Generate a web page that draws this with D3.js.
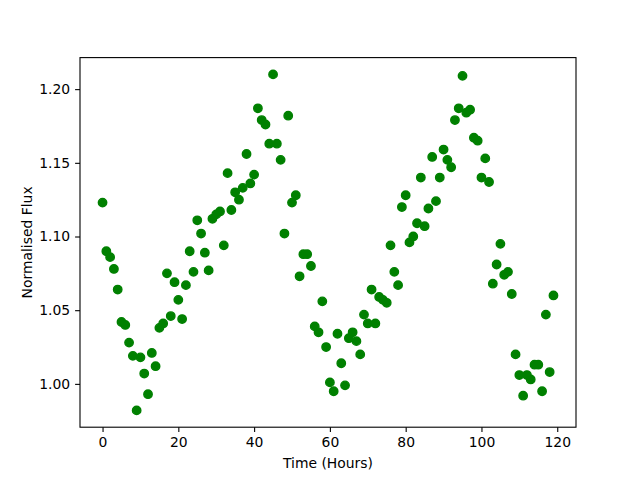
<!DOCTYPE html>
<html>
<head>
<meta charset="utf-8">
<script src="https://d3js.org/d3.v7.min.js"></script>
<style>
  body { margin: 0; background: #fff; }
  svg { display: block; font-family: "DejaVu Sans", sans-serif; }
  .tick text { font-size: 13.9px; fill: #000; }
  .axis-label { font-size: 13.9px; fill: #000; }
</style>
</head>
<body>
<div id="chart"></div>
<script>
// hourly samples, 0..119
const hours = d3.range(0, 120);
const flux = [
  1.123, 1.090, 1.086, 1.078, 1.064, 1.042, 1.040, 1.028, 1.019, 0.982,
  1.018, 1.007, 0.993, 1.021, 1.012, 1.038, 1.041, 1.075, 1.046, 1.069,
  1.057, 1.044, 1.067, 1.090, 1.076, 1.111, 1.102, 1.089, 1.077, 1.112,
  1.115, 1.117, 1.094, 1.143, 1.118, 1.130, 1.125, 1.133, 1.156, 1.136,
  1.142, 1.187, 1.179, 1.176, 1.163, 1.210, 1.163, 1.152, 1.102, 1.182,
  1.123, 1.128, 1.073, 1.088, 1.088, 1.080, 1.039, 1.035, 1.056, 1.025,
  1.001, 0.995, 1.034, 1.014, 0.999, 1.031, 1.035, 1.029, 1.020, 1.047,
  1.041, 1.064, 1.041, 1.059, 1.057, 1.055, 1.094, 1.076, 1.067, 1.120,
  1.128, 1.096, 1.100, 1.109, 1.140, 1.107, 1.119, 1.154, 1.124, 1.140,
  1.159, 1.152, 1.147, 1.179, 1.187, 1.209, 1.184, 1.186, 1.167, 1.165,
  1.140, 1.153, 1.137, 1.068, 1.081, 1.095, 1.074, 1.076, 1.061, 1.020,
  1.006, 0.992, 1.006, 1.003, 1.013, 1.013, 0.995, 1.047, 1.008, 1.060
];
const xTicks = [0, 20, 40, 60, 80, 100, 120];
const yTicks = [1.00, 1.05, 1.10, 1.15, 1.20];

const width = 640, height = 480;
const plotLeft = 80, plotRight = 576, plotTop = 57.6, plotBottom = 427.2;

// matplotlib style 5% margins
function padded(vals) {
  const [lo, hi] = d3.extent(vals);
  const m = (hi - lo) * 0.05;
  return [lo - m, hi + m];
}

const x = d3.scaleLinear().domain(padded(hours)).range([plotLeft, plotRight]);
const y = d3.scaleLinear().domain(padded(flux)).range([plotBottom, plotTop]);

const svg = d3.select("#chart").append("svg")
  .attr("width", width)
  .attr("height", height);

svg.append("rect")
  .attr("width", width).attr("height", height)
  .attr("fill", "#fff");

svg.append("g")
  .selectAll("circle")
  .data(hours)
  .enter().append("circle")
  .attr("cx", d => x(d))
  .attr("cy", (d, i) => y(flux[i]))
  .attr("r", 4.2)
  .attr("fill", "#008000")
  .attr("stroke", "#008000")
  .attr("stroke-width", 1.4);

const xAxis = svg.append("g")
  .attr("transform", `translate(0,${plotBottom})`)
  .call(d3.axisBottom(x).tickValues(xTicks).tickFormat(d3.format("d"))
    .tickSize(4.9).tickPadding(4.9));

const yAxis = svg.append("g")
  .attr("transform", `translate(${plotLeft},0)`)
  .call(d3.axisLeft(y).tickValues(yTicks).tickFormat(d3.format(".2f"))
    .tickSize(4.9).tickPadding(4.9));

[xAxis, yAxis].forEach(a => {
  a.select(".domain").remove();
  a.selectAll(".tick line").attr("stroke", "#000").attr("stroke-width", 1.1);
  a.attr("font-family", null).attr("font-size", null);
});

// frame
svg.append("rect")
  .attr("x", plotLeft).attr("y", plotTop)
  .attr("width", plotRight - plotLeft).attr("height", plotBottom - plotTop)
  .attr("fill", "none")
  .attr("stroke", "#000")
  .attr("stroke-width", 1.1);

svg.append("text")
  .attr("class", "axis-label")
  .attr("x", (plotLeft + plotRight) / 2)
  .attr("y", 468)
  .attr("text-anchor", "middle")
  .text("Time (Hours)");

svg.append("text")
  .attr("class", "axis-label")
  .attr("transform", `translate(31.5,${(plotTop + plotBottom) / 2}) rotate(-90)`)
  .attr("text-anchor", "middle")
  .text("Normalised Flux");
</script>
</body>
</html>
